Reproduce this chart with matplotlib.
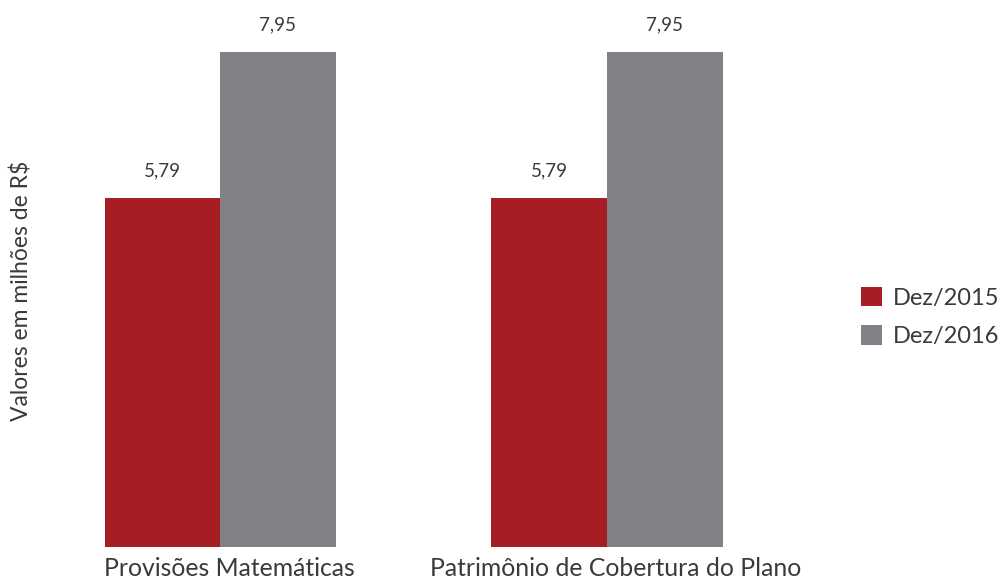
import matplotlib
matplotlib.use("Agg")
import matplotlib.pyplot as plt
from matplotlib.transforms import ScaledTranslation
import numpy as np

plt.rcParams['font.family'] = ['Lato', 'DejaVu Sans']

categories = ["Provisões Matemáticas", "Patrimônio de Cobertura do Plano"]
series_names = ["Dez/2015", "Dez/2016"]
values_2015 = [5.79, 5.79]
values_2016 = [7.95, 7.95]
labels_2015 = ["5,79", "5,79"]
labels_2016 = ["7,95", "7,95"]

red = "#A61E23"
gray = "#808184"
text_col = "#3a3a3a"

W, H = 1000, 583
fig = plt.figure(figsize=(W / 100, H / 100), dpi=100)

# axes covers the full width; baseline at y=547px, top at y=0
base_px = 547
ax = fig.add_axes([0, 1 - base_px / H, 1, base_px / H])
ax.set_facecolor("none")

px_per_unit = 387.0
x0_px = 220.0
ax.set_xlim(-x0_px / px_per_unit, (W - x0_px) / px_per_unit)
ymin, ymax = 0.62, 8.72
ax.set_ylim(ymin, ymax)

x = np.arange(len(categories))
w = 115.5 / px_per_unit
b1 = ax.bar(x - w / 2, np.array(values_2015) - ymin, w, bottom=ymin, color=red, label=series_names[0])
b2 = ax.bar(x + w / 2, np.array(values_2016) - ymin, w, bottom=ymin, color=gray, label=series_names[1])

for bars, labs in ((b1, labels_2015), (b2, labels_2016)):
    for rect, lab in zip(bars, labs):
        ax.annotate(lab, (rect.get_x() + rect.get_width() / 2, rect.get_y() + rect.get_height()),
                    xytext=(0, 27), textcoords="offset pixels", ha="center", va="center",
                    fontsize=13.5, color=text_col)

ax.set_xticks(x)
ax.set_xticklabels(categories, fontsize=17.8, color=text_col)
ax.tick_params(axis="x", length=0, pad=7)
# category labels sit a little right of the group centre
shift = ScaledTranslation(9 / 100, 0, fig.dpi_scale_trans)
for lbl in ax.get_xticklabels():
    lbl.set_transform(lbl.get_transform() + shift)
ax.set_yticks([])
for s in ax.spines.values():
    s.set_visible(False)

fig.text(22 / W, 1 - 291 / H, "Valores em milhões de R$", rotation=90,
         ha="center", va="center", fontsize=16.5, color=text_col)

fig.legend(handles=[b1, b2], labels=series_names, loc="center left",
           bbox_to_anchor=(842 / W, 1 - 317 / H), frameon=False,
           fontsize=17, labelcolor=text_col, handlelength=0.9, handleheight=0.9,
           handletextpad=0.45, labelspacing=0.7, borderpad=0.3)

fig.savefig("out.png", dpi=100)
